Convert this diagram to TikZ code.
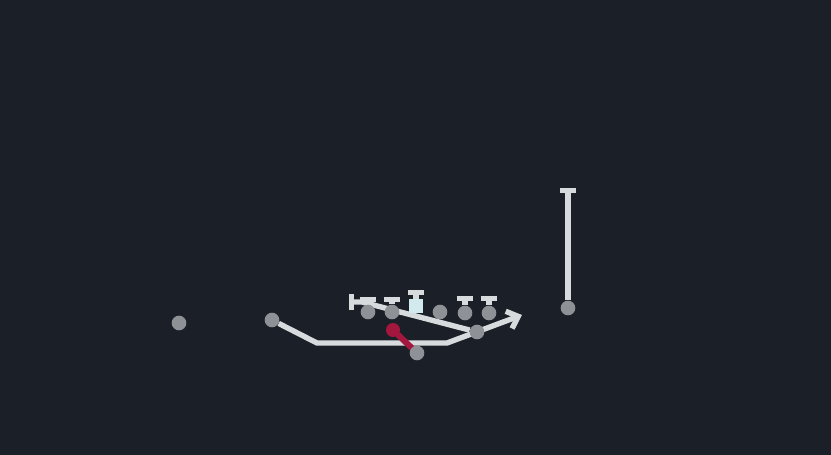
\documentclass[tikz,border=0pt]{standalone}
\usepackage{tikz}
\usetikzlibrary{arrows.meta, positioning, backgrounds}
\definecolor{fieldbg}{HTML}{1B1F27}
\definecolor{playergray}{HTML}{8E9196}
\definecolor{routewhite}{HTML}{D8DBDD}
\definecolor{centercyan}{HTML}{D2E9EE}
\definecolor{blockred}{HTML}{A3173F}
\pgfdeclarelayer{routes}
\pgfsetlayers{background,routes,main}

\begin{document}
\begin{tikzpicture}[
        x=0.03cm, y=-0.03cm,
        player/.style={circle, fill=playergray, minimum size=0.44cm, inner sep=0pt},
        center_box/.style={rectangle, fill=centercyan, minimum size=0.4cm, inner sep=0pt},
        route/.style={draw=routewhite, line width=4.6pt, line join=round},
        run_arrow/.style={route, -{Straight Barb[length=0.3cm, width=0.55cm]}},
        block_t/.style={route, -{Bar[width=0.5cm]}},
        red_line/.style={draw=blockred, line width=5.2pt, line cap=round},
        red_dot/.style={circle, fill=blockred, minimum size=0.42cm, inner sep=0pt}
    ]
    \begin{pgfonlayer}{background}
        \fill[fieldbg] (0,0) rectangle (831,455);
    \end{pgfonlayer}

    % (A) Offensive line
    \node (LT) [player] at (368,312) {};
    \node (LG) [player] at (392,312) {};
    \node (C) [center_box] at (416,306) {};
    \node (RG) [player] at (440,312) {};
    \node (RT) [player] at (465,313) {};
    \node (TE) [player] at (489,313) {};
    \coordinate (LTb) at (368,297);
    \coordinate (LGb) at (392,297);
    \coordinate (Cb) at (416,290);
    \coordinate (RTb) at (465,296);
    \coordinate (TEb) at (489,296);
    \begin{pgfonlayer}{routes}
        \draw[block_t] (LT) -- (LTb);
        \draw[block_t] (LG) -- (LGb);
        \draw[block_t] (C) -- (Cb);
        \draw[block_t] (RT) -- (RTb);
        \draw[block_t] (TE) -- (TEb);
    \end{pgfonlayer}

    % (B) Backs and receivers
    \node (X) [player] at (179,323) {};
    \node (H) [player] at (272,320) {};
    \node (QB) [player] at (417,353) {};
    \node (W) [player] at (477,332) {};
    \node (Z) [player] at (568,308) {};
    \node (QBd) [red_dot] at (393,330) {};
    \coordinate (Hc1) at (317,343);
    \coordinate (Hc2) at (447,343);
    \coordinate (Hend) at (522,315);
    \coordinate (Wc) at (362,302);
    \coordinate (Wb) at (349,302);
    \coordinate (Zb) at (568,188);
    \begin{pgfonlayer}{routes}
        \draw[run_arrow] (H) -- (Hc1) -- (Hc2) -- (Hend);
        \draw[block_t] (W) -- (Wc) -- (Wb);
        \draw[block_t] (Z) -- (Zb);
        \draw[red_line] (QB) -- (QBd);
    \end{pgfonlayer}
\end{tikzpicture}
\end{document}
